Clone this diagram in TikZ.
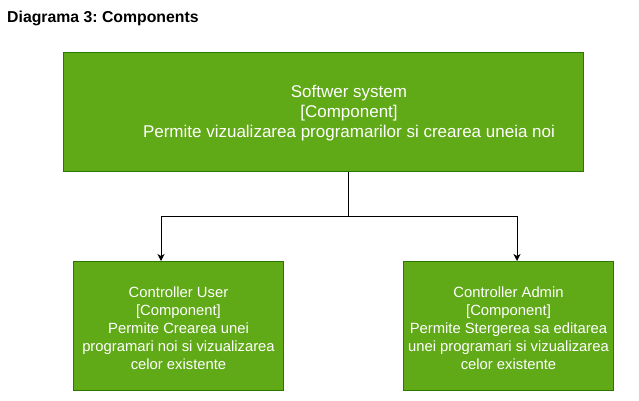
\documentclass[tikz,border=0pt]{standalone}
\usepackage{fontspec}
\setmainfont{Liberation Sans}
\usetikzlibrary{arrows.meta}
\definecolor{compfill}{HTML}{60A917}
\definecolor{compline}{HTML}{2D7600}
\frenchspacing
\begin{document}
\begin{tikzpicture}[x=1pt,y=-1pt,
  comp/.style={draw=compline, fill=compfill, line width=1pt,
    inner sep=0pt, anchor=north west},
  comptext/.style={text=white, align=center, inner sep=0pt},
  link/.style={draw=black, line width=1pt, -{Stealth[width=7pt,length=7pt,inset=2pt]}}]
  \useasboundingbox (0,0) rectangle (639,401);
  \node[anchor=base west, inner sep=0pt, font=\bfseries\fontsize{15.8}{18}\selectfont] (title) at (7,23) {Diagrama 3: Components};

  % system box, its description set a little right of the box centre
  \node[comp, minimum width=520pt, minimum height=119pt] (sys) at (63,52) {};
  \node[comptext, font=\fontsize{17}{20}\selectfont] (systext) at ([xshift=25.5pt,yshift=-1pt]sys.center)
    {Softwer system\\{[Component]}\\Permite vizualizarea programarilor si crearea uneia noi};

  % controller boxes
  \node[comp, minimum width=210pt, minimum height=129pt] (user) at (73,261) {};
  \node[comptext, font=\fontsize{14.8}{18}\selectfont] (usertext) at ([yshift=-2pt]user.center)
    {Controller User\\{[Component]}\\Permite Crearea unei\\programari noi si vizualizarea\\celor existente};
  \node[comp, minimum width=210pt, minimum height=129pt] (admin) at (403,261) {};
  \node[comptext, font=\fontsize{14.8}{18}\selectfont] (admintext) at ([yshift=-2pt]admin.center)
    {Controller Admin\\{[Component]}\\Permite Stergerea sa editarea\\unei programari si vizualizarea\\celor existente};

  % connector: leaves the system box, splits, and enters both controllers
  \coordinate (sysout) at ([xshift=285pt]sys.south west);
  \coordinate (split) at (348,216);
  \coordinate (userin) at ([xshift=88pt]user.north west);
  \coordinate (adminin) at ([xshift=114pt]admin.north west);
  \draw[link] (sysout) -- (split) -| (userin);
  \draw[link] (split) -| (adminin);
\end{tikzpicture}
\end{document}
